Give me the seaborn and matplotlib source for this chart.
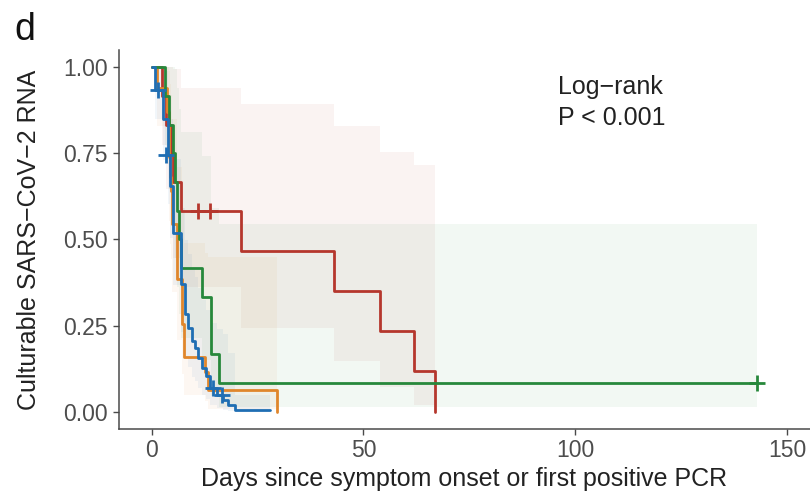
import matplotlib
matplotlib.use("Agg")
import matplotlib.pyplot as plt
import seaborn as sns
import numpy as np
import pandas as pd

# ---- data ----
red_t = [0, 2.5, 3.5, 4.5, 5.1, 7.0, 21.0, 43.0, 54.0, 62.0, 67.0]
red_s = [1.0, 0.917, 0.833, 0.75, 0.667, 0.583, 0.467, 0.35, 0.233, 0.117, 0.0]
red_lo = [1.0, 0.773, 0.647, 0.541, 0.447, 0.361, 0.244, 0.148, 0.072, 0.019, 0.019]
red_hi = [1.0, 1.0, 1.0, 1.0, 0.995, 0.941, 0.893, 0.828, 0.755, 0.716, 0.716]
red_cens_t = [10.9, 13.8]
red_cens_s = [0.583, 0.583]

orange_t = [0, 1.2, 3.6, 4.0, 4.3, 4.6, 4.9, 6.0, 7.1, 7.7, 12.6, 13.4, 29.7]
orange_s = [1.0, 0.94, 0.87, 0.74, 0.68, 0.64, 0.545, 0.385, 0.254, 0.158, 0.116, 0.063, 0.0]
orange_lo = [1.0, 0.83, 0.72, 0.554, 0.486, 0.443, 0.348, 0.207, 0.11, 0.05, 0.03, 0.009, 0.009]
orange_hi = [1.0, 1.0, 1.0, 0.99, 0.95, 0.92, 0.85, 0.71, 0.59, 0.49, 0.46, 0.45, 0.45]

green_t = [0, 3.2, 4.2, 5.0, 5.5, 6.0, 6.5, 7.0, 12.0, 14.0, 16.0, 143.0]
green_s = [1.0, 0.917, 0.833, 0.75, 0.667, 0.583, 0.5, 0.417, 0.333, 0.167, 0.083, 0.083]
green_lo = [1.0, 0.773, 0.647, 0.541, 0.447, 0.361, 0.284, 0.213, 0.150, 0.047, 0.013, 0.013]
green_hi = [1.0, 1.0, 1.0, 1.0, 0.995, 0.941, 0.880, 0.813, 0.742, 0.590, 0.544, 0.544]
green_cens_t = [143.0]
green_cens_s = [0.083]

blue_t = [0, 0.8, 2.8, 3.8, 4.4, 5.1, 6.9, 7.9, 8.7, 9.5, 10.3, 11.0, 11.8, 12.9, 13.8, 15.4, 16.9, 18.1, 19.7, 28.0]
blue_s = [1.0, 0.934, 0.85, 0.745, 0.655, 0.52, 0.37, 0.283, 0.244, 0.205, 0.186, 0.156, 0.127, 0.103, 0.069, 0.05, 0.035, 0.021, 0.004, 0.004]
blue_lo = [1.0, 0.849, 0.732, 0.604, 0.505, 0.369, 0.232, 0.16, 0.13, 0.101, 0.088, 0.068, 0.05, 0.036, 0.019, 0.010, 0.005, 0.003, 0.003, 0.003]
blue_hi = [1.0, 1.0, 0.988, 0.918, 0.849, 0.733, 0.59, 0.5, 0.459, 0.415, 0.392, 0.358, 0.325, 0.294, 0.257, 0.24, 0.225, 0.17, 0.05, 0.05]
blue_cens_t = [1.6, 3.4, 14.6, 16.6]
blue_cens_s = [0.934, 0.745, 0.069, 0.05]

x_ticks = [0, 50, 100, 150]
y_ticks = [0.00, 0.25, 0.50, 0.75, 1.00]

colors = {"red": "#B5372D", "orange": "#E0862B", "green": "#27883B", "blue": "#1F6EB3"}

groups = [
    ("red", red_t, red_s, red_lo, red_hi, red_cens_t, red_cens_s),
    ("orange", orange_t, orange_s, orange_lo, orange_hi, [], []),
    ("green", green_t, green_s, green_lo, green_hi, green_cens_t, green_cens_s),
    ("blue", blue_t, blue_s, blue_lo, blue_hi, blue_cens_t, blue_cens_s),
]

# ---- style ----
sns.set_style("ticks")
plt.rcParams["font.family"] = ["Liberation Sans", "DejaVu Sans"]

fig = plt.figure(figsize=(8.1, 4.91), dpi=100)
ax = fig.add_axes([119 / 810, 62 / 491, (810 - 119) / 810, (429 - 50) / 491])

# confidence bands
for name, t, s, lo, hi, ct, cs in groups:
    ax.fill_between(t, lo, hi, step="post", color=colors[name], alpha=0.06, linewidth=0)

# step curves
for name, t, s, lo, hi, ct, cs in groups:
    df = pd.DataFrame({"t": t, "s": s})
    sns.lineplot(data=df, x="t", y="s", ax=ax, color=colors[name], drawstyle="steps-post",
                 estimator=None, sort=False, linewidth=2.0)
    if len(ct):
        cdf = pd.DataFrame({"t": ct, "s": cs})
        sns.scatterplot(data=cdf, x="t", y="s", ax=ax, marker="+", s=120,
                        color=colors[name], linewidth=2.0, zorder=5)

ax.set_xlim(-7.7, 155.4)
ax.set_ylim(-0.05, 1.05)
ax.set_xticks(x_ticks)
ax.set_yticks(y_ticks)
ax.set_xticklabels([str(v) for v in x_ticks])
ax.set_yticklabels([f"{v:.2f}" for v in y_ticks])

for sp in ["top", "right"]:
    ax.spines[sp].set_visible(False)
for sp in ["left", "bottom"]:
    ax.spines[sp].set_color("#4A4A4A")
    ax.spines[sp].set_linewidth(1.1)

ax.tick_params(axis="both", direction="out", length=4, width=1.0, color="#4A4A4A",
               labelcolor="#4D4D4D", labelsize=16.5)
ax.tick_params(axis="x", pad=3)
ax.tick_params(axis="y", pad=4)

ax.set_xlabel("Days since symptom onset or first positive PCR", fontsize=18, color="#222222", labelpad=4)
ax.set_ylabel("Culturable SARS\u2212CoV\u22122 RNA", fontsize=18, color="#222222", labelpad=16)

ax.text(96, 0.943, "Log\u2212rank", fontsize=18, color="#222222", ha="left", va="center")
ax.text(96, 0.853, "P < 0.001", fontsize=18, color="#222222", ha="left", va="center")

fig.text(14 / 810, 1 - 12 / 491, "d", fontsize=27, color="#111111", ha="left", va="top")

fig.savefig("out.png", dpi=100)
